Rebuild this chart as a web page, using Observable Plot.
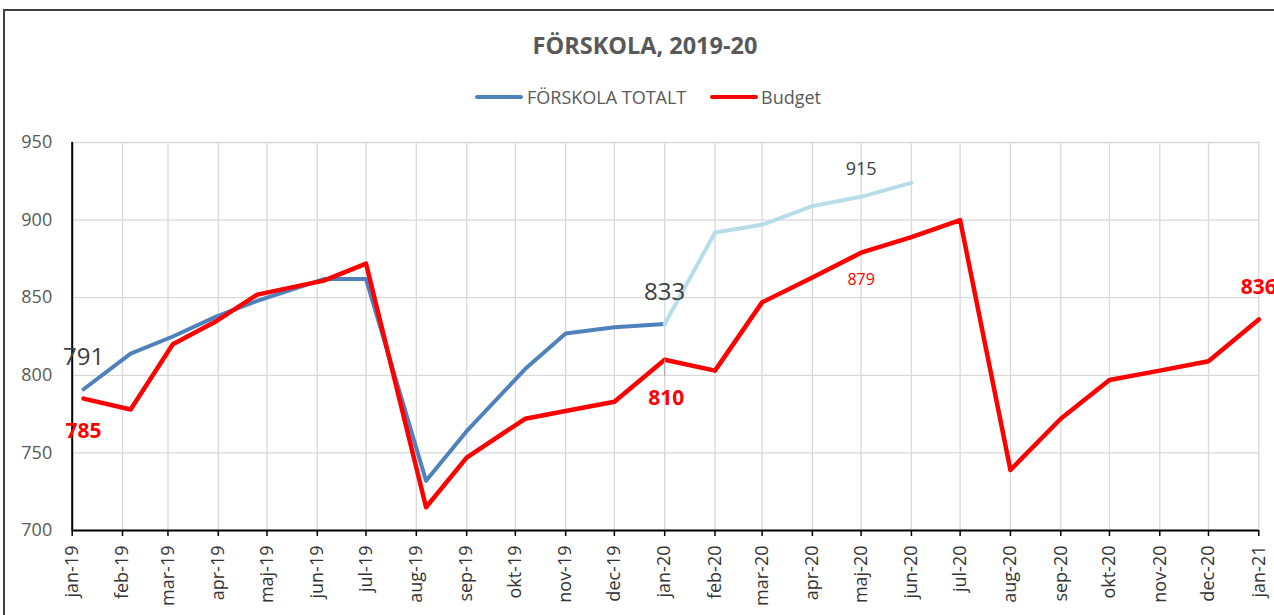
<!DOCTYPE html>
<html>
<head>
<meta charset="utf-8">
<script src="https://cdn.jsdelivr.net/npm/d3@7"></script>
<script src="https://cdn.jsdelivr.net/npm/@observablehq/plot@0.6"></script>
<style>
html,body{margin:0;padding:0;background:#fff;overflow:hidden;}
#wrap{position:relative;width:1274px;height:615px;overflow:hidden;font-family:"Open Sans",sans-serif;}
#frame{position:absolute;left:3px;top:9px;width:1400px;height:700px;border-left:2px solid #404040;border-top:2px solid #404040;pointer-events:none;}
#head{position:relative;height:120px;}
#title{position:absolute;left:645px;top:45px;transform:translate(-50%,-50%);font-weight:700;font-size:23.5px;color:#595959;white-space:nowrap;}
.sw{position:absolute;height:4px;border-radius:2px;top:95px;width:48px;}
.lt{position:absolute;top:97px;transform:translateY(-50%);font-size:18px;color:#595959;white-space:nowrap;}
#chart svg{display:block;}
</style>
</head>
<body>
<div id="wrap">
  <div id="head">
    <div id="title">FÖRSKOLA, 2019-20</div>
    <div class="sw" style="left:475px;background:#4f81bd;"></div>
    <div class="lt" style="left:527px;">FÖRSKOLA TOTALT</div>
    <div class="sw" style="left:710px;background:#ff0000;"></div>
    <div class="lt" style="left:761px;">Budget</div>
  </div>
  <div id="chart"></div>
  <div id="frame"></div>
</div>
<script>
// ---- data ----
const monthNames = ["jan","feb","mar","apr","maj","jun","jul","aug","sep","okt","nov","dec"];
const yTickValues = [700, 750, 800, 850, 900, 950];

const totaltDates = ["2019-01-08","2019-02-06","2019-03-04","2019-03-31","2019-04-25","2019-06-05",
  "2019-07-01","2019-08-07","2019-09-01","2019-10-07","2019-11-01","2019-12-01","2020-01-01"];
const totaltValues = [791, 814, 825, 838, 848, 862, 862, 732, 764, 804, 827, 831, 833];

const prognosDates = ["2020-01-01","2020-02-01","2020-03-01","2020-04-01","2020-05-01","2020-06-01"];
const prognosValues = [833, 892, 897, 909, 915, 924];

const budgetDates = ["2019-01-08","2019-02-06","2019-03-04","2019-03-31","2019-04-25","2019-06-05",
  "2019-07-01","2019-08-07","2019-09-01","2019-10-07","2019-11-01","2019-12-01","2020-01-01",
  "2020-02-01","2020-03-01","2020-04-01","2020-05-01","2020-06-01","2020-07-01","2020-08-01",
  "2020-09-01","2020-10-01","2020-11-01","2020-12-01","2021-01-01"];
const budgetValues = [785, 778, 820, 835, 852, 861, 872, 715, 747, 772, 777, 783, 810,
  803, 847, 863, 879, 889, 900, 739, 772, 797, 803, 809, 836];

// ---- tables ----
const rows = (ds, vs) => ds.map((d, i) => ({date: new Date(d + "T00:00:00Z"), value: vs[i]}));
const totalt = rows(totaltDates, totaltValues);
const prognos = rows(prognosDates, prognosValues);
const budget = rows(budgetDates, budgetValues);

const x0 = new Date(Date.UTC(2019, 0, 1));
const x1 = new Date(Date.UTC(2021, 0, 1));
const monthTicks = d3.utcMonth.range(x0, d3.utcMonth.offset(x1, 1));
const fmt = d => monthNames[d.getUTCMonth()] + "-" + String(d.getUTCFullYear()).slice(2);

const lineOpts = {x: "date", y: "value", strokeLinejoin: "round", strokeLinecap: "round"};

const chart = Plot.plot({
  width: 1274,
  height: 495,
  marginTop: 22,
  marginBottom: 85,
  marginLeft: 71.7,
  marginRight: 15.7,
  x: {type: "utc", domain: [x0, x1]},
  y: {domain: [700, 950]},
  style: {fontFamily: "'Open Sans', sans-serif", background: "transparent", overflow: "visible"},
  marks: [
    Plot.ruleX(monthTicks, {stroke: "#d9d9d9", strokeWidth: 1.3}),
    Plot.ruleY(yTickValues, {stroke: "#d9d9d9", strokeWidth: 1.3}),
    Plot.axisY({ticks: yTickValues, tickSize: 0, tickPadding: 20, fontSize: 18, fill: "#595959", label: null}),
    Plot.axisX({ticks: monthTicks, tickSize: 6, tickPadding: 9, tickRotate: -90, tickFormat: fmt,
      fontSize: 18, fill: "#333333", stroke: "#000", strokeWidth: 1.5, label: null}),
    Plot.ruleX([x0], {stroke: "#000", strokeWidth: 2}),
    Plot.ruleY([700], {stroke: "#000", strokeWidth: 2}),
    Plot.line(totalt, {...lineOpts, stroke: "#4f81bd", strokeWidth: 4}),
    Plot.line(prognos, {...lineOpts, stroke: "#b7dde8", strokeWidth: 4}),
    Plot.line(budget, {...lineOpts, stroke: "#ff0000", strokeWidth: 4.5}),
    // leader line for the 810 label
    Plot.ruleX([budget[12]], {x: "date", y1: "value", y2: d => d.value - 11, stroke: "#a6a6a6", strokeWidth: 1}),
    // data labels
    Plot.text([totalt[0], totalt[12]], {x: "date", y: "value", text: d => String(d.value), dy: -31.5, fontSize: 24, fill: "#404040"}),
    Plot.text([prognos[4]], {x: "date", y: "value", text: d => String(d.value), dy: -28, fontSize: 18, fill: "#404040"}),
    Plot.text([budget[0]], {x: "date", y: "value", text: d => String(d.value), dy: 33, fontSize: 21, fontWeight: "bold", fill: "#ff0000"}),
    Plot.text([budget[12]], {x: "date", y: "value", text: d => String(d.value), dy: 38.5, dx: 1.5, fontSize: 21, fontWeight: "bold", fill: "#ff0000"}),
    Plot.text([budget[24]], {x: "date", y: "value", text: d => String(d.value), dy: -32, fontSize: 21, fontWeight: "bold", fill: "#ff0000"}),
    Plot.text([budget[16]], {x: "date", y: "value", text: d => String(d.value), dy: 27.6, fontSize: 16, fill: "#ff0000"})
  ]
});
document.getElementById("chart").appendChild(chart);
</script>
</body>
</html>
